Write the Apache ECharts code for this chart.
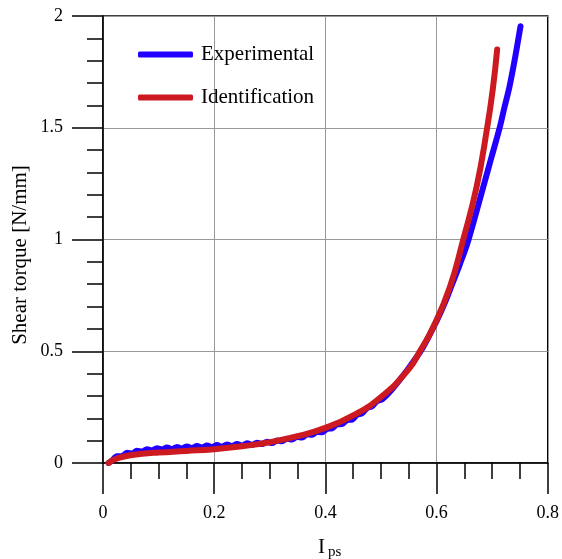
<!DOCTYPE html>
<html>
<head>
<meta charset="utf-8">
<script src="https://cdn.jsdelivr.net/npm/echarts@6/dist/echarts.min.js"></script>
<style>
html,body{margin:0;padding:0;background:#fff;}
#chart{width:562px;height:559px;}
</style>
</head>
<body>
<div id="chart"></div>
<script>
// ---- data ----
const seriesNames = ["Experimental", "Identification"];

const expX = [0.010,0.016,0.025,0.034,0.043,0.052,0.061,0.070,0.079,0.088,0.097,0.106,0.115,0.124,0.133,0.142,0.151,0.160,0.169,0.178,0.187,0.196,0.205,0.214,0.223,0.232,0.241,0.250,0.259,0.268,0.277,0.286,0.295,0.304,0.313,0.322,0.331,0.340,0.349,0.358,0.367,0.376,0.385,0.394,0.403,0.412,0.421,0.430,0.439,0.448,0.457,0.466,0.475,0.484,0.493,0.502,0.520,0.550,0.575,0.600,0.615,0.628,0.642,0.655,0.669,0.684,0.699,0.7135,0.722,0.731,0.741,0.751];
const expY = [0.000,0.010,0.030,0.030,0.046,0.042,0.055,0.051,0.062,0.056,0.066,0.060,0.069,0.062,0.072,0.065,0.074,0.067,0.076,0.069,0.078,0.071,0.080,0.073,0.083,0.076,0.085,0.078,0.088,0.081,0.091,0.085,0.095,0.089,0.101,0.097,0.109,0.105,0.117,0.114,0.128,0.126,0.140,0.138,0.153,0.155,0.173,0.174,0.192,0.194,0.216,0.223,0.246,0.254,0.277,0.285,0.330,0.425,0.515,0.635,0.718,0.800,0.890,0.980,1.100,1.235,1.370,1.500,1.590,1.682,1.810,1.954];

const idX = [0.010,0.020,0.040,0.070,0.100,0.150,0.200,0.250,0.300,0.350,0.400,0.450,0.500,0.550,0.570,0.594,0.624,0.648,0.672,0.691,0.7016,0.709];
const idY = [0.000,0.016,0.030,0.041,0.047,0.054,0.062,0.075,0.093,0.120,0.157,0.213,0.295,0.420,0.500,0.608,0.788,1.000,1.235,1.500,1.682,1.850];

const xTicks = [0, 0.2, 0.4, 0.6, 0.8];
const yTicks = [0, 0.5, 1, 1.5, 2];
const yTitle = "Shear torque [N/mm]";
const xTitleMain = "I";
const xTitleSub = "ps";

// ---- chart ----
const zip = (xs, ys) => xs.map((x, i) => [x, ys[i]]);
const serif = "'Liberation Serif','Times New Roman',serif";
const chart = echarts.init(document.getElementById('chart'), null, {renderer: 'canvas'});

const axisCommon = {
  type: 'value',
  axisLine: {show: true, onZero: false, lineStyle: {color: '#000', width: 1.5}},
  axisTick: {show: true, inside: false, length: 31, lineStyle: {color: '#000', width: 1.5}},
  minorTick: {show: true, length: 16, lineStyle: {color: '#000', width: 1.5}},
  splitLine: {show: true, lineStyle: {color: '#999', width: 1}},
  axisLabel: {color: '#000', fontFamily: serif, fontSize: 18}
};

chart.setOption({
  animation: false,
  backgroundColor: '#fff',
  grid: {left: 103, right: 12, top: 16, bottom: 96, containLabel: false,
         show: true, borderColor: '#000', borderWidth: 1.5, backgroundColor: 'transparent'},
  xAxis: Object.assign({}, axisCommon, {
    min: xTicks[0], max: xTicks[xTicks.length - 1], interval: xTicks[1] - xTicks[0],
    minorTick: Object.assign({}, axisCommon.minorTick, {splitNumber: 4}),
    axisLabel: Object.assign({}, axisCommon.axisLabel, {margin: 41})
  }),
  yAxis: Object.assign({}, axisCommon, {
    min: yTicks[0], max: yTicks[yTicks.length - 1], interval: yTicks[1] - yTicks[0],
    minorTick: Object.assign({}, axisCommon.minorTick, {splitNumber: 5}),
    axisLabel: Object.assign({}, axisCommon.axisLabel, {margin: 40})
  }),
  legend: {
    orient: 'vertical', left: 138, top: 44, padding: 0, itemGap: 22,
    itemWidth: 55, itemHeight: 6, icon: 'roundRect',
    textStyle: {color: '#000', fontFamily: serif, fontSize: 21, padding: [0,0,0,3]},
    data: seriesNames
  },
  series: [
    {name: seriesNames[0], type: 'line', data: zip(expX, expY), showSymbol: false, smooth: 0.3,
     color: '#2200ff', lineStyle: {width: 6, color: '#2200ff', cap: 'round', join: 'round'}, z: 2},
    {name: seriesNames[1], type: 'line', data: zip(idX, idY), showSymbol: false, smooth: true,
     color: '#cc1a20', lineStyle: {width: 6, color: '#cc1a20', cap: 'round', join: 'round'}, z: 3}
  ],
  graphic: [
    {type: 'text', x: 20, y: 255, rotation: Math.PI / 2,
     style: {text: yTitle, fill: '#000', font: '21px ' + serif, textAlign: 'center', textVerticalAlign: 'middle'}},
    {type: 'text', x: 318, y: 535,
     style: {text: '{a|' + xTitleMain + '}{b|' + xTitleSub + '}',
       rich: {a: {fontFamily: serif, fontSize: 21, fill: '#000', color: '#000'},
              b: {fontFamily: serif, fontSize: 15, fill: '#000', color: '#000', padding: [10, 0, 0, 3]}}}}
  ]
});
</script>
</body>
</html>
